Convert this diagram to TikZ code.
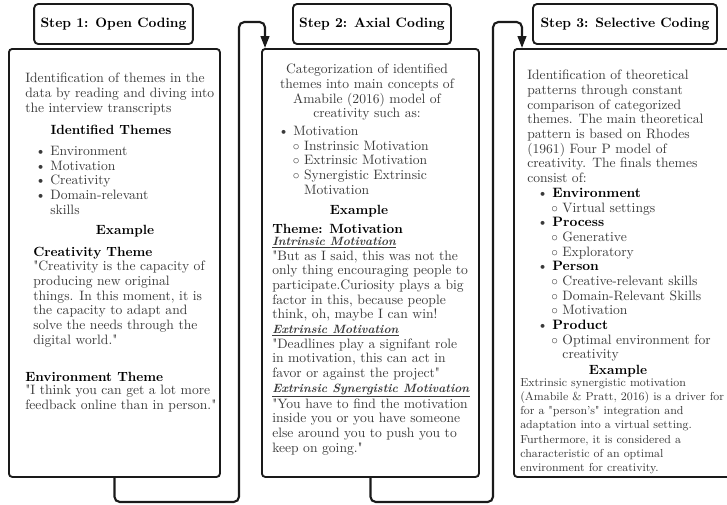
\documentclass[tikz,border=0pt]{standalone}
\usepackage{tikz}
\usetikzlibrary{positioning, arrows.meta, calc}
\definecolor{cInk}{HTML}{1A1A1A}
\definecolor{cText}{HTML}{3A3A3A}
\newcommand{\qq}{\textquotedbl}

\begin{document}
\begin{tikzpicture}[x=0.75pt, y=-0.75pt,
    stepbox/.style={draw=cInk, rounded corners=3pt, line width=1.4pt, fill=white,
      minimum height=30pt, inner sep=0pt, text=black,
      font=\bfseries\fontsize{10.2}{12}\selectfont},
    panel/.style={draw=cInk, rounded corners=2.5pt, line width=1.4pt,
      anchor=north west, minimum height=321pt, inner sep=0pt},
    bodytxt/.style={anchor=north west, align=left, inner sep=0pt, text=cText,
      font=\fontsize{10.2}{11}\selectfont},
    headtxt/.style={inner sep=0pt, text=black, font=\bfseries\fontsize{10}{11}\selectfont},
    flow/.style={draw=cInk, line width=1.6pt, rounded corners=4pt,
      -{Triangle[length=9pt, width=6.5pt]}},
  ]
  \clip (0,0) rectangle (727,504);

  % step titles
  \node[stepbox, minimum width=119pt] (step1) at (113.5,24) {Step 1: Open Coding};
  \node[stepbox, minimum width=118.5pt] (step2) at (372,24) {Step 2: Axial Coding};
  \node[stepbox, minimum width=138pt] (step3) at (625,24) {Step 3: Selective Coding};

  % panels
  \node[panel, minimum width=158.25pt] (box1) at (8,48) {};
  \node[panel, minimum width=162.75pt] (box2) at (261,48) {};
  \node[panel, minimum width=170pt] (box3) at (513,48) {};

  % step 1 contents
  \node[bodytxt] (b1intro) at (25,73)
    {Identification of themes in the\\data by reading and diving into\\the interview transcripts};
  \node[headtxt, anchor=base] (b1themesH) at (111,134) {Identified Themes};
  \node[bodytxt] (b1themes) at (35,146)
    {\textbullet\ Environment\\\textbullet\ Motivation\\\textbullet\ Creativity\\
     \textbullet\ Domain-relevant\\\phantom{\textbullet\ }skills};
  \node[headtxt, anchor=base] (b1exH) at (125,234) {Example};
  \node[headtxt, anchor=base west] (b1creaH) at (33,256) {Creativity Theme};
  \node[bodytxt] (b1crea) at (33,261)
    {\qq Creativity is the capacity of\\producing new original\\things. In this moment, it is\\
     the capacity to adapt and\\solve the needs through the\\digital world.\qq};
  \node[headtxt, anchor=base west] (b1envH) at (25,381) {Environment Theme};
  \node[bodytxt] (b1env) at (25,385)
    {\qq I think you can get a lot more\\feedback online than in person.\qq};

  % step 2 contents
  \node[bodytxt, anchor=north, align=center] (b2intro) at (367,64)
    {Categorization of identified\\themes into main concepts of\\Amabile (2016) model of\\creativity such as:};
  \node[bodytxt] (b2list) at (278,126)
    {\textbullet\ Motivation\\
     \hspace*{11pt}$\circ$\ Instrinsic Motivation\\
     \hspace*{11pt}$\circ$\ Extrinsic Motivation\\
     \hspace*{11pt}$\circ$\ Synergistic Extrinsic\\
     \hspace*{11pt}\phantom{$\circ$\ }Motivation};
  \node[headtxt, anchor=base] (b2exH) at (359,214) {Example};
  \node[headtxt, anchor=base west] (b2themeH) at (272,233) {Theme: Motivation};
  \node[bodytxt] (b2ex) at (272,237)
    {\underline{\textbf{\textit{\fontsize{9}{11}\selectfont Intrinsic Motivation}}}\\
     \qq But as I said, this was not the\\only thing encouraging people to\\
     participate.Curiosity plays a big\\factor in this, because people\\
     think, oh, maybe I can win!\\
     \underline{\textbf{\textit{\fontsize{9}{11}\selectfont Extrinsic Motivation}}}\\
     \qq Deadlines play a signifant role\\in motivation, this can act in\\
     favor or against the project\qq\\
     \underline{\textbf{\textit{\fontsize{9}{11}\selectfont Extrinsic Synergistic Motivation}}}\\
     \qq You have to find the motivation\\inside you or you have someone\\
     else around you to push you to\\keep on going.\qq};

  % step 3 contents
  \node[bodytxt] (b3intro) at (527,70)
    {Identification of theoretical\\patterns through constant\\comparison of categorized\\
     themes. The main theoretical\\pattern is based on Rhodes\\(1961) Four P model of\\
     creativity. The finals themes\\consist of:};
  \node[bodytxt] (b3list) at (537,188)
    {\textbullet\ \textbf{\textcolor{black}{Environment}}\\
     \hspace*{10.5pt}$\circ$\ Virtual settings\\
     \textbullet\ \textbf{\textcolor{black}{Process}}\\
     \hspace*{10.5pt}$\circ$\ Generative\\
     \hspace*{10.5pt}$\circ$\ Exploratory\\
     \textbullet\ \textbf{\textcolor{black}{Person}}\\
     \hspace*{10.5pt}$\circ$\ Creative-relevant skills\\
     \hspace*{10.5pt}$\circ$\ Domain-Relevant Skills\\
     \hspace*{10.5pt}$\circ$\ Motivation\\
     \textbullet\ \textbf{\textcolor{black}{Product}}\\
     \hspace*{10.5pt}$\circ$\ Optimal environment for\\
     \hspace*{10.5pt}\phantom{$\circ$\ }creativity};
  \node[headtxt, anchor=base] (b3exH) at (618,374) {Example};
  \node[bodytxt, font=\fontsize{8.7}{10.7}\selectfont] (b3ex) at (520,378)
    {Extrinsic synergistic motivation\\(Amabile \& Pratt, 2016) is a driver for\\
     for a \qq person's\qq{} integration and\\adaptation into a virtual setting.\\
     Furthermore, it is considered a\\characteristic of an optimal\\
     environment for creativity.};

  % connectors
  \coordinate (c1a) at (239,502);
  \coordinate (c1b) at (265,22);
  \coordinate (c2a) at (493,502);
  \coordinate (c2b) at (522,22);
  \draw[flow] (box1.south) |- (c1a) |- (c1b) -- (c1b |- box2.north);
  \draw[flow] (box2.south) |- (c2a) |- (c2b) -- (c2b |- box3.north);
\end{tikzpicture}
\end{document}
